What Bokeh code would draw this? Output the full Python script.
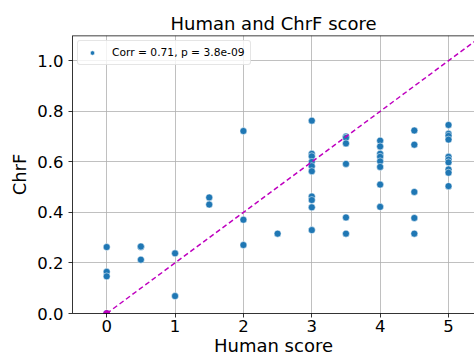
from bokeh.plotting import figure
from bokeh.models import FixedTicker, PrintfTickFormatter, Span, Legend, LegendItem
from bokeh.embed import file_html
from bokeh.resources import INLINE

# Data
human = [0, 0, 0, 0,
         0.5, 0.5, 0.5,
         1, 1,
         1.5, 1.5,
         2, 2, 2,
         2.5,
         3, 3, 3, 3, 3, 3, 3, 3, 3, 3,
         3.5, 3.5, 3.5, 3.5, 3.5, 3.5,
         4, 4, 4, 4, 4, 4, 4, 4,
         4.5, 4.5, 4.5, 4.5, 4.5,
         5, 5, 5, 5, 5, 5, 5, 5, 5, 5]
chrf = [0.263, 0.165, 0.147, 0.0,
        0.263, 0.265, 0.213,
        0.238, 0.069,
        0.459, 0.431,
        0.722, 0.371, 0.271,
        0.316,
        0.763, 0.632, 0.622, 0.600, 0.583, 0.563, 0.463, 0.449, 0.420, 0.330,
        0.700, 0.695, 0.673, 0.592, 0.380, 0.316,
        0.684, 0.661, 0.632, 0.620, 0.602, 0.580, 0.510, 0.422,
        0.724, 0.668, 0.481, 0.378, 0.316,
        0.746, 0.711, 0.703, 0.688, 0.620, 0.609, 0.598, 0.570, 0.557, 0.504]
line_x = [0.0, 5.5]
line_y = [0.0, 1.1]
x_ticks = [0, 1, 2, 3, 4, 5]
y_ticks = [0.0, 0.2, 0.4, 0.6, 0.8, 1.0]
legend_label = "Corr = 0.71, p = 3.8e-09"
x_title = "Human score"
y_title = "ChrF"
chart_title = "Human and ChrF score"

FONT = "DejaVu Sans"
BLUE = "#1f77b4"
MAG = "#bf00bf"

p = figure(width=474, height=358, output_backend="svg", toolbar_location=None,
           x_range=(-0.5, 5.38), y_range=(0.0, 1.1),
           min_border_left=72, min_border_right=0, min_border_top=35, min_border_bottom=42,
           title=chart_title)
p.title.text_font = FONT
p.title.text_font_size = "18px"
p.title.text_font_style = "normal"
p.title.align = "center"
p.title.offset = 6
p.title.standoff = 4
p.title.text_color = "#000000"

p.outline_line_color = None
p.background_fill_color = "white"
p.border_fill_color = "white"

for ax in (p.xaxis, p.yaxis):
    ax.axis_line_color = "black"
    ax.axis_line_width = 0.8
    ax.major_tick_line_color = "black"
    ax.major_tick_line_width = 0.8
    ax.major_tick_in = 0
    ax.major_tick_out = 4
    ax.minor_tick_line_color = None
    ax.major_label_text_font = FONT
    ax.major_label_text_font_size = "16.5px"
    ax.major_label_text_color = "black"
    ax.axis_label_text_font = FONT
    ax.axis_label_text_font_size = "18px"
    ax.axis_label_text_font_style = "normal"
    ax.axis_label_text_color = "black"

p.xaxis.ticker = FixedTicker(ticks=x_ticks)
p.yaxis.ticker = FixedTicker(ticks=y_ticks)
p.yaxis.formatter = PrintfTickFormatter(format="%.1f")
p.xaxis.axis_label = x_title
p.yaxis.axis_label = y_title
p.xaxis.major_label_standoff = 2
p.xaxis.axis_label_standoff = 0
p.yaxis.major_label_standoff = 5
p.yaxis.axis_label_standoff = 4

p.grid.grid_line_color = "#b0b0b0"
p.grid.grid_line_width = 0.8
p.grid.level = "underlay"

top = Span(location=1.1, dimension="width", line_color="black", line_width=1.6)
p.add_layout(top)

sc = p.scatter(human, chrf, size=7, fill_color=BLUE, line_color="white", line_width=0.5)
p.line(line_x, line_y, line_color=MAG, line_width=1.5, line_dash="5 3")
p.scatter(line_x[:1], line_y[:1], size=6, fill_color=MAG, line_color=MAG)

legend = Legend(items=[LegendItem(label=legend_label, renderers=[sc])], location="top_left")
legend.label_text_font = FONT
legend.label_text_font_size = "10.7px"
legend.label_text_color = "black"
legend.border_line_color = "#cccccc"
legend.border_line_width = 1
legend.border_radius = 3
legend.margin = 5
legend.padding = 5
legend.spacing = 0
legend.glyph_width = 18
legend.glyph_height = 11
legend.label_height = 11
legend.label_standoff = 11
legend.background_fill_alpha = 0.8
p.add_layout(legend)

open("out.html", "w").write(file_html(p, INLINE))
